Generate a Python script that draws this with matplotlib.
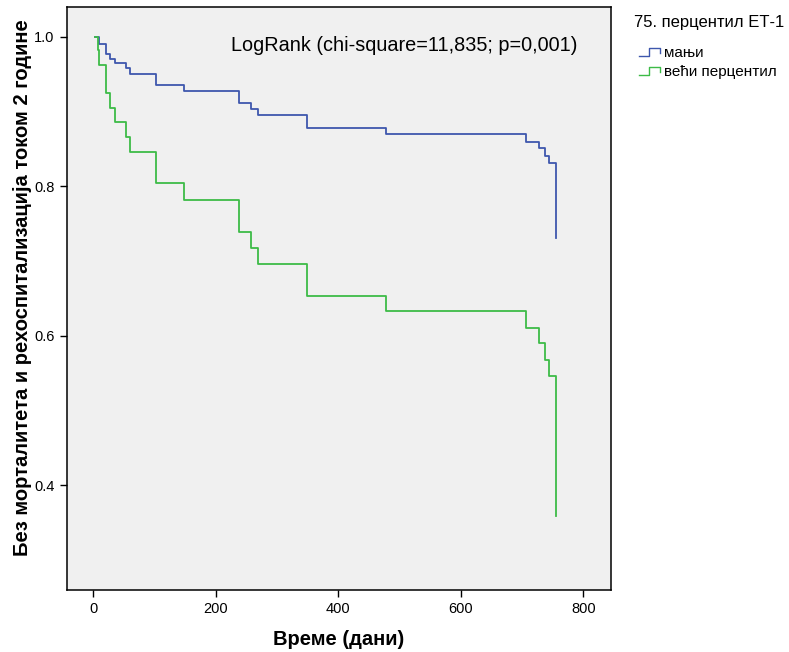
import matplotlib
matplotlib.use("Agg")
import matplotlib.pyplot as plt
from matplotlib.legend_handler import HandlerBase
from matplotlib.lines import Line2D

plt.rcParams["font.family"] = ["Liberation Sans", "DejaVu Sans"]

# ── Подаци (очитано са слике) ─────────────────────────────────────────────
vreme_manji = [2, 9.5, 20, 28, 35, 53, 60, 102, 148, 238, 258, 268, 348,
               477, 706, 727, 738, 743, 755]
prez_manji = [1.000, 0.990, 0.977, 0.971, 0.965, 0.958, 0.951, 0.936, 0.928,
              0.912, 0.903, 0.895, 0.878, 0.870, 0.860, 0.851, 0.841, 0.831,
              0.731]

vreme_veci = [2, 8, 10, 20, 28, 35, 53, 60, 102, 148, 238, 258, 268, 348,
              477, 706, 727, 738, 743, 755]
prez_veci = [1.000, 0.982, 0.963, 0.925, 0.905, 0.886, 0.866, 0.846, 0.804,
             0.782, 0.739, 0.718, 0.696, 0.654, 0.633, 0.611, 0.590, 0.568,
             0.546, 0.359]

x_ticks = [0, 200, 400, 600, 800]
y_ticks = [0.4, 0.6, 0.8, 1.0]

PLAVA = "#3e57ad"
ZELENA = "#3dbb47"


class StepHandler(HandlerBase):
    def create_artists(self, legend, orig, xd, yd, w, h, fontsize, trans):
        xs = [xd, xd + 0.45 * w, xd + 0.45 * w, xd + w, xd + w]
        ys = [yd + 0.1 * h, yd + 0.1 * h, yd + 0.8 * h, yd + 0.8 * h, yd + 0.35 * h]
        ln = Line2D(xs, ys, color=orig.get_color(), linewidth=1.0, transform=trans)
        return [ln]


fig = plt.figure(figsize=(7.89, 6.52), dpi=100)
ax = fig.add_axes([66.5 / 789, 1 - 590 / 652, (611 - 66.5) / 789, (590 - 6.7) / 652])
ax.set_facecolor("#f0f0f0")

l1, = ax.step(vreme_manji, prez_manji, where="post", color=PLAVA, linewidth=1.3)
l2, = ax.step(vreme_veci, prez_veci, where="post", color=ZELENA, linewidth=1.3)

ax.set_xlim(-43.8, 845)
ax.set_ylim(0.2602, 1.0405)
ax.set_xticks(x_ticks)
ax.set_yticks(y_ticks)
ax.set_yticklabels([f"{v:.1f}" for v in y_ticks])
ax.tick_params(direction="out", length=5, width=1, labelsize=10.5, colors="black")
for s in ax.spines.values():
    s.set_linewidth(1.1)

ax.set_xlabel("Време (дани)", fontsize=14.5, fontweight="bold", labelpad=10)
ax.set_ylabel("Без морталитета и рехоспитализација током 2 године",
              fontsize=14.5, fontweight="bold", va="center")
ax.yaxis.set_label_coords(-0.0817, 0.518)

ax.text(224, 0.988, "LogRank (chi-square=11,835; p=0,001)",
        fontsize=14.3, va="center", ha="left")

fig.text(634 / 789, 1 - 22 / 652, "75. перцентил ЕТ-1", fontsize=12,
         ha="left", va="center")
leg = fig.legend([l1, l2], ["мањи", "већи перцентил"], loc="upper left",
                 bbox_to_anchor=(639 / 789, 1 - 46 / 652), frameon=False,
                 handler_map={Line2D: StepHandler()}, handlelength=1.4,
                 handletextpad=0.25, labelspacing=0.3, fontsize=11,
                 borderpad=0, borderaxespad=0)

fig.savefig("out.png", dpi=100)
